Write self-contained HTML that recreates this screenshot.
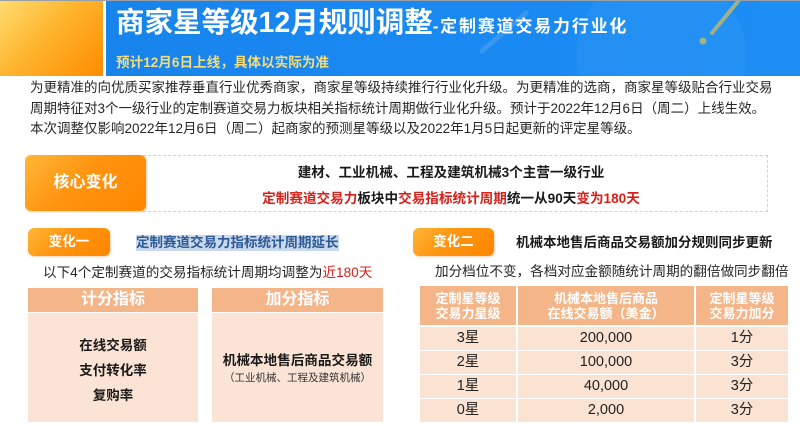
<!DOCTYPE html>
<html>
<head>
<meta charset="utf-8">
<style>
*{margin:0;padding:0;box-sizing:border-box;}
html,body{width:800px;height:426px;overflow:hidden;background:#fff;}
body{position:relative;font-family:"Liberation Sans","Noto Sans CJK SC",sans-serif;color:#222;}
.a{position:absolute;white-space:nowrap;}
.b{font-weight:bold;}
.red{color:#d8201a;}
.tab{position:absolute;border-radius:6px;background:linear-gradient(135deg,#ffb637 0%,#ff9410 45%,#ff8600 100%);color:#fff;font-weight:bold;text-align:center;box-shadow:1px 1px 2px rgba(200,120,40,0.35);}
.hd{position:absolute;background:#f4b589;color:#fff;font-weight:bold;text-align:center;}
.bd{position:absolute;background:#fbe4d5;text-align:center;}
.cell{position:absolute;background:#fbe3d4;text-align:center;font-size:14.5px;line-height:23px;color:#222;}
</style>
</head>
<body>
<!-- header -->
<div class="a" style="left:0;top:0;width:800px;height:1px;background:#9aa0a8;"></div>
<div class="a" style="left:0;top:1px;width:103px;height:75px;background:linear-gradient(135deg,#ffdc70 0%,#ffb42e 45%,#ff8c00 100%);"></div>
<div class="a" style="left:106px;top:1px;width:694px;height:75px;background:linear-gradient(90deg,#1784ec 0%,#1a8af2 60%,#1d8ef4 100%);overflow:hidden;">
  <div style="position:absolute;left:470px;top:-30px;width:170px;height:170px;border-radius:50%;background:rgba(255,255,255,0.04);"></div>
  <svg width="694" height="75" style="position:absolute;left:0;top:0;">
    <line x1="376" y1="50" x2="420" y2="12" stroke="rgba(255,255,255,0.13)" stroke-width="5" stroke-linecap="round"/>
    <line x1="634" y1="-2" x2="606" y2="32" stroke="#b6b872" stroke-width="4" stroke-linecap="round" opacity="0.85"/>
    <circle cx="597" cy="40" r="3.5" fill="#b6b872" opacity="0.85"/>
  </svg>
</div>
<div class="a b" style="left:116px;top:3px;line-height:40px;font-size:28.5px;color:#fff;">商家星等级12月规则调整<span style="font-size:17px;letter-spacing:1.8px;">-定制赛道交易力行业化</span></div>
<div class="a b" style="left:116px;top:54px;line-height:18px;font-size:13.6px;color:#f3dc80;">预计12月6日上线，具体以实际为准</div>

<!-- paragraph -->
<div class="a" style="left:30px;top:78px;font-size:13.5px;line-height:20.5px;color:#262626;">为更精准的向优质买家推荐垂直行业优秀商家，商家星等级持续推行行业化升级。为更精准的选商，商家星等级贴合行业交易<br>周期特征对3个一级行业的定制赛道交易力板块相关指标统计周期做行业化升级。预计于2022年12月6日（周二）上线生效。<br>本次调整仅影响2022年12月6日（周二）起商家的预测星等级以及2022年1月5日起更新的评定星等级。</div>

<!-- core change -->
<div class="a" style="left:143px;top:155px;width:625px;height:57px;border:1.5px dashed #f6cc94;border-left:none;"></div>
<div class="tab" style="left:25px;top:155px;width:121px;height:56px;font-size:16px;line-height:56px;">核心变化</div>
<div class="a b" style="left:151px;top:163px;width:600px;text-align:center;font-size:13.6px;line-height:20px;color:#1a1a1a;">建材、工业机械、工程及建筑机械3个主营一级行业</div>
<div class="a b" style="left:151px;top:189px;width:600px;text-align:center;font-size:13.6px;line-height:20px;color:#1a1a1a;"><span class="red">定制赛道交易力</span>板块中<span class="red">交易指标统计周期</span>统一从90天<span class="red">变为180天</span></div>

<!-- change one -->
<div class="tab" style="left:28px;top:228px;width:82px;height:28px;font-size:13.5px;line-height:28px;">变化一</div>
<div class="a b" style="left:136px;top:235px;height:16px;line-height:16px;font-size:13.5px;color:#2d5b97;background:#c9d8ea;">定制赛道交易力指标统计周期延长</div>
<div class="a" style="left:43px;top:263px;font-size:13.6px;line-height:20px;color:#262626;">以下4个定制赛道的交易指标统计周期均调整为<span style="color:#d8201a;">近180天</span></div>

<div class="hd" style="left:28px;top:288px;width:170px;height:24px;font-size:16px;line-height:24px;">计分指标</div>
<div class="hd" style="left:212px;top:288px;width:171px;height:24px;font-size:16px;line-height:24px;">加分指标</div>
<div class="bd" style="left:28px;top:313px;width:170px;height:109px;"></div>
<div class="bd" style="left:212px;top:313px;width:171px;height:109px;"></div>
<div class="a b" style="left:28px;top:333px;width:170px;text-align:center;font-size:13.5px;line-height:25px;color:#1a1a1a;">在线交易额<br>支付转化率<br>复购率</div>
<div class="a b" style="left:212px;top:351px;width:171px;text-align:center;font-size:13.6px;line-height:20px;color:#1a1a1a;">机械本地售后商品交易额</div>
<div class="a" style="left:212px;top:371px;width:171px;text-align:center;font-size:10.5px;line-height:15px;color:#333;">（工业机械、工程及建筑机械）</div>

<!-- change two -->
<div class="tab" style="left:413px;top:228px;width:81px;height:28px;font-size:13.5px;line-height:28px;">变化二</div>
<div class="a b" style="left:516px;top:234px;font-size:13.5px;line-height:18px;color:#1a1a1a;">机械本地售后商品交易额加分规则同步更新</div>
<div class="a" style="left:435px;top:262px;font-size:13.6px;line-height:20px;color:#262626;">加分档位不变，各档对应金额随统计周期的翻倍做同步翻倍</div>

<div class="hd" style="left:420px;top:286px;width:96px;height:39px;font-size:13px;line-height:15px;padding-top:5px;">定制星等级<br>交易力星级</div>
<div class="hd" style="left:518px;top:286px;width:176px;height:39px;font-size:13px;line-height:15px;padding-top:5px;">机械本地售后商品<br>在线交易额（美金）</div>
<div class="hd" style="left:696px;top:286px;width:92px;height:39px;font-size:13px;line-height:15px;padding-top:5px;">定制星等级<br>交易力加分</div>

<div class="cell" style="left:420px;top:327px;width:96px;">3星</div>
<div class="cell" style="left:518px;top:327px;width:176px;">200,000</div>
<div class="cell" style="left:696px;top:327px;width:92px;">1分</div>

<div class="cell" style="left:420px;top:351px;width:96px;">2星</div>
<div class="cell" style="left:518px;top:351px;width:176px;">100,000</div>
<div class="cell" style="left:696px;top:351px;width:92px;">3分</div>

<div class="cell" style="left:420px;top:375px;width:96px;">1星</div>
<div class="cell" style="left:518px;top:375px;width:176px;">40,000</div>
<div class="cell" style="left:696px;top:375px;width:92px;">3分</div>

<div class="cell" style="left:420px;top:399px;width:96px;">0星</div>
<div class="cell" style="left:518px;top:399px;width:176px;">2,000</div>
<div class="cell" style="left:696px;top:399px;width:92px;">3分</div>
</body>
</html>
